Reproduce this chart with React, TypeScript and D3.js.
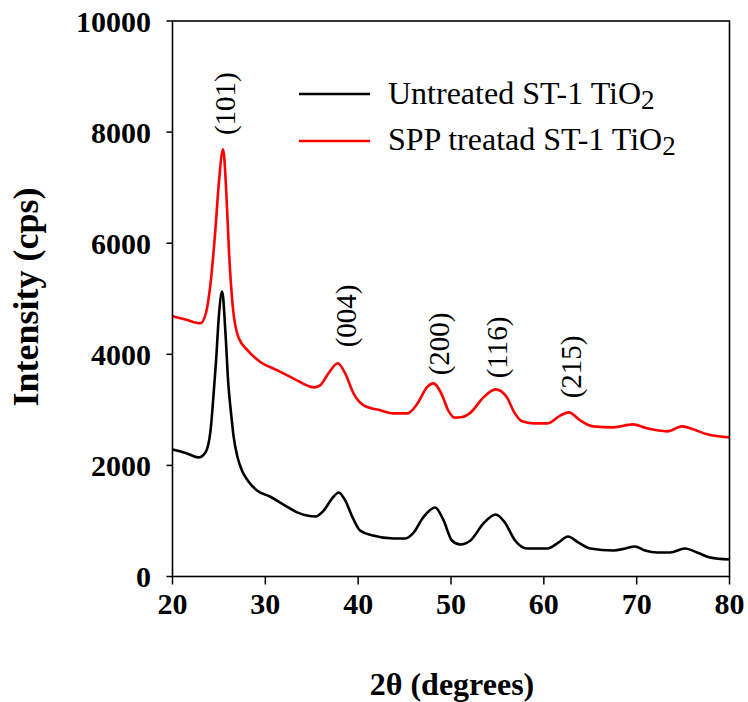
import React from "react";
import * as d3 from "d3";

// 2-theta positions and intensities
const untreatedX = [20, 21.5, 22.8, 23.55, 24.1, 24.4, 24.7, 25.0, 25.35, 25.7, 26.0, 26.3, 26.6, 27.0, 27.5, 28.1, 29.1, 30.5, 32.0, 33.5, 35.4, 36.3, 37.2, 37.9, 38.6, 39.4, 40.2, 41.6, 43.8, 45.1, 45.9, 47.0, 48.3, 49.2, 50.1, 51.0, 52.1, 53.5, 54.8, 55.8, 56.9, 58.2, 60.4, 61.6, 62.6, 63.7, 65.0, 67.5, 68.8, 69.8, 70.9, 72.2, 73.6, 75.2, 76.5, 77.9, 80];
const untreatedY = [2288, 2220, 2144, 2234, 2630, 3225, 3900, 4700, 5130, 4400, 3500, 2950, 2500, 2150, 1900, 1730, 1550, 1440, 1290, 1150, 1081, 1190, 1405, 1513, 1369, 1063, 829, 739, 685, 685, 775, 1063, 1243, 1009, 649, 577, 649, 955, 1117, 973, 649, 505, 505, 613, 721, 613, 505, 469, 505, 541, 469, 433, 433, 505, 433, 342, 306];

const treatedX = [20, 21.5, 23.0, 23.6, 24.1, 24.6, 25.0, 25.45, 25.8, 26.1, 26.5, 27.1, 28.1, 29.5, 31.3, 33.0, 35.2, 35.9, 36.8, 37.8, 38.6, 39.5, 40.6, 42.4, 43.8, 45.3, 46.4, 47.4, 48.1, 49.0, 49.7, 50.4, 51.2, 52.1, 53.5, 54.8, 56.0, 56.8, 57.6, 58.9, 60.4, 61.8, 62.7, 63.9, 65.3, 67.5, 69.6, 71.1, 73.3, 74.9, 76.1, 77.6, 80];
const treatedY = [4685, 4620, 4558, 4739, 5279, 6200, 7100, 7690, 6900, 5800, 4847, 4306, 4072, 3856, 3712, 3568, 3405, 3441, 3658, 3838, 3658, 3297, 3081, 2991, 2937, 2937, 3117, 3405, 3477, 3280, 2990, 2860, 2870, 2950, 3225, 3369, 3230, 2960, 2800, 2757, 2757, 2900, 2955, 2811, 2703, 2685, 2739, 2667, 2613, 2703, 2649, 2559, 2505];

// peak labels: hkl, centre angle, intensity at the label's lower end
const peakLabels = ["(101)", "(004)", "(200)", "(116)", "(215)"];
const peakAngles = [25.7, 38.7, 48.7, 55.0, 62.9];
const peakLabelBase = [7946, 4126, 3622, 3568, 3207];

const xTicks = [20, 30, 40, 50, 60, 70, 80];
const yTicks = [0, 2000, 4000, 6000, 8000, 10000];

const seriesNames = ["Untreated ST-1 TiO", "SPP treatad ST-1 TiO"];
const seriesColors = ["#000000", "#ff0000"];

const serif = "Liberation Serif, DejaVu Serif, serif";

export default function App() {
  const left = 172.5;
  const right = 729.5;
  const top = 21;
  const bottom = 576.5;

  const x = d3.scaleLinear().domain([20, 80]).range([left, right]);
  const y = d3.scaleLinear().domain([0, 10000]).range([bottom, top]);

  const line = d3
    .line<[number, number]>()
    .x((d) => x(d[0]))
    .y((d) => y(d[1]))
    .curve(d3.curveMonotoneX);

  const black = untreatedX.map((v, i) => [v, untreatedY[i]] as [number, number]);
  const red = treatedX.map((v, i) => [v, treatedY[i]] as [number, number]);
  const txt = { fontFamily: serif };

  return (
    <svg
      width={748}
      height={702}
      style={{ position: "absolute", left: 0, top: 0, background: "#fff" }}
    >
      <path d={line(black) || ""} fill="none" stroke={seriesColors[0]} strokeWidth={2.6} strokeLinejoin="round" />
      <path d={line(red) || ""} fill="none" stroke={seriesColors[1]} strokeWidth={2.6} strokeLinejoin="round" />

      {/* frame */}
      <rect x={left} y={top} width={right - left} height={bottom - top} fill="none" stroke="#000" strokeWidth={1.6} />

      {yTicks.map((t) => (
        <g key={"y" + t}>
          <line x1={left - 6} x2={left} y1={y(t)} y2={y(t)} stroke="#000" strokeWidth={1.5} />
          <text x={151} y={y(t)} dy="0.36em" textAnchor="end" fontSize={30} fontWeight="bold" style={txt}>
            {t}
          </text>
        </g>
      ))}
      {xTicks.map((t) => (
        <g key={"x" + t}>
          <line x1={x(t)} x2={x(t)} y1={bottom} y2={bottom + 8} stroke="#000" strokeWidth={1.5} />
          <text x={x(t)} y={614} textAnchor="middle" fontSize={30} fontWeight="bold" style={txt}>
            {t}
          </text>
        </g>
      ))}

      <text transform="translate(38,297) rotate(-90)" textAnchor="middle" fontSize={36} fontWeight="bold" style={txt}>
        Intensity (cps)
      </text>
      <text x={452} y={695} textAnchor="middle" fontSize={32} fontWeight="bold" style={txt}>
        2θ (degrees)
      </text>

      {peakLabels.map((lab, i) => (
        <text
          key={lab}
          transform={`translate(${x(peakAngles[i])},${y(peakLabelBase[i])}) rotate(-90)`}
          dominantBaseline="central"
          fontSize={29}
          style={txt}
        >
          {lab}
        </text>
      ))}

      {seriesNames.map((name, i) => (
        <g key={name}>
          <line x1={299} x2={370} y1={94 + i * 47} y2={94 + i * 47} stroke={seriesColors[i]} strokeWidth={2.6} />
          <text x={388} y={104 + i * 46} fontSize={32} style={txt}>
            {name}
            <tspan dy={5} fontSize={27}>2</tspan>
          </text>
        </g>
      ))}
    </svg>
  );
}
